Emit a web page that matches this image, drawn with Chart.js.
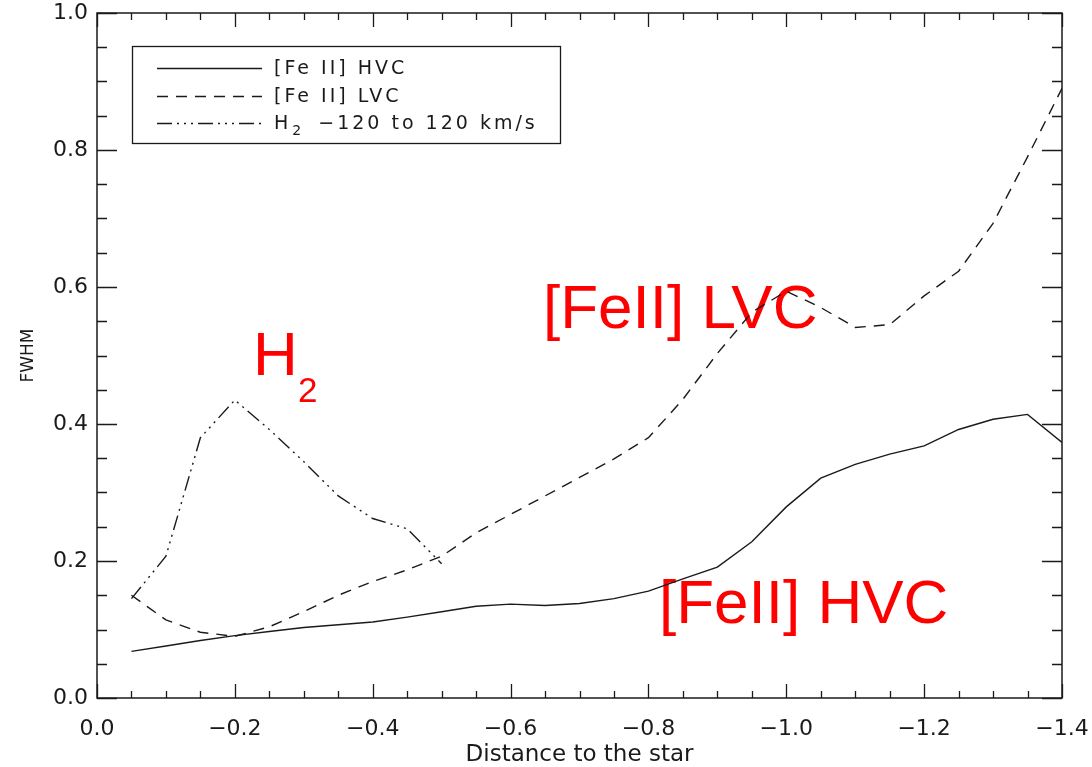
<!DOCTYPE html>
<html>
<head>
<meta charset="utf-8">
<script src="https://cdn.jsdelivr.net/npm/chart.js@4"></script>
<style>
  html, body { margin: 0; padding: 0; background: #fff; }
  #wrap { width: 1092px; height: 767px; }
</style>
</head>
<body>
<div id="wrap"><canvas id="chart" width="1092" height="767"></canvas></div>
<script>
// distance to the star (x), sampled every 0.05
const distance = [-0.05, -0.10, -0.15, -0.20, -0.25, -0.30, -0.35, -0.40, -0.45, -0.50,
                  -0.55, -0.60, -0.65, -0.70, -0.75, -0.80, -0.85, -0.90, -0.95, -1.00,
                  -1.05, -1.10, -1.15, -1.20, -1.25, -1.30, -1.35, -1.40];

// FWHM values
const feHVC = [0.068, 0.076, 0.084, 0.091, 0.097, 0.103, 0.107, 0.111, 0.118, 0.126,
               0.134, 0.137, 0.135, 0.138, 0.145, 0.156, 0.174, 0.191, 0.228, 0.279,
               0.321, 0.341, 0.356, 0.368, 0.392, 0.407, 0.414, 0.373];
const feLVC = [0.150, 0.114, 0.096, 0.090, 0.104, 0.126, 0.150, 0.170, 0.187, 0.207,
               0.241, 0.268, 0.295, 0.322, 0.349, 0.380, 0.436, 0.503, 0.563, 0.594,
               0.570, 0.541, 0.545, 0.587, 0.623, 0.693, 0.790, 0.890];
const h2 = [0.145, 0.207, 0.380, 0.435, 0.392, 0.345, 0.295, 0.262, 0.247, 0.196];

const xTicks = [0, -0.2, -0.4, -0.6, -0.8, -1.0, -1.2, -1.4];
const yTicks = [0, 0.2, 0.4, 0.6, 0.8, 1.0];

const seriesLabels = ['[Fe II] HVC', '[Fe II] LVC', 'H\u2082 \u2212120 to 120 km/s'];
const dashes = [[], [11, 8], [15, 5, 2, 5, 2, 5, 2, 5]];

const FONT = 'DejaVu Sans, sans-serif';
const INK = '#1a1a1a';

function toPoints(ys) {
    return ys.map(function (y, i) { return { x: distance[i], y: y }; });
}

// legend label, with the H2 subscript drawn by hand
function legendText(ctx, k, x, y) {
    ctx.font = '19px ' + FONT;
    if (k < 2) {
        ctx.fillText(seriesLabels[k], x, y);
        return;
    }
    ctx.fillText('H', x, y);
    let w = ctx.measureText('H').width;
    ctx.font = '14px ' + FONT;
    ctx.fillText('2', x + w + 1, y + 7);
    w += ctx.measureText('2').width + 6;
    ctx.font = '19px ' + FONT;
    ctx.fillText(' \u2212120 to 120 km/s', x + w, y);
}

// inward ticks on all four sides, box frame, legend, red labels
const idlFrame = {
    id: 'idlFrame',
    beforeDatasetsDraw: function (chart) {
        const ctx = chart.ctx;
        ctx.save();
        ctx.fillStyle = '#ff0000';
        ctx.textBaseline = 'alphabetic';
        ctx.textAlign = 'left';
        ctx.font = '62px "Liberation Sans", Arial, sans-serif';
        ctx.fillText('[FeII] LVC', 543, 328);
        ctx.fillText('[FeII] HVC', 659, 623);
        ctx.fillText('H', 253, 375);
        ctx.font = '35px "Liberation Sans", Arial, sans-serif';
        ctx.fillText('2', 298, 402);
        ctx.restore();
    },
    afterDraw: function (chart) {
        const ctx = chart.ctx;
        const a = chart.chartArea;
        const xs = chart.scales.x;
        const ys = chart.scales.y;
        ctx.save();
        ctx.strokeStyle = INK;
        ctx.lineWidth = 1.5;
        ctx.strokeRect(a.left, a.top, a.right - a.left, a.bottom - a.top);

        ctx.lineWidth = 1.3;
        ctx.beginPath();
        for (let i = 0; i <= 28; i++) {
            const v = -i * 0.05;
            const px = Math.round(xs.getPixelForValue(v)) + 0.5;
            const len = (i % 4 === 0) ? 14 : 7;
            ctx.moveTo(px, a.bottom); ctx.lineTo(px, a.bottom - len);
            ctx.moveTo(px, a.top); ctx.lineTo(px, a.top + len);
        }
        for (let i = 0; i <= 20; i++) {
            const v = i * 0.05;
            const py = Math.round(ys.getPixelForValue(v)) + 0.5;
            const len = (i % 4 === 0) ? 20 : 10;
            ctx.moveTo(a.left, py); ctx.lineTo(a.left + len, py);
            ctx.moveTo(a.right, py); ctx.lineTo(a.right - len, py);
        }
        ctx.stroke();

        // legend box
        ctx.lineWidth = 1.3;
        ctx.strokeRect(132.5, 46.5, 428, 97);
        const rowY = [68, 96, 123];
        ctx.fillStyle = INK;
        ctx.textBaseline = 'middle';
        ctx.textAlign = 'left';
        for (let k = 0; k < 3; k++) {
            ctx.setLineDash(dashes[k]);
            ctx.beginPath();
            ctx.moveTo(157, rowY[k] + 0.5);
            ctx.lineTo(262, rowY[k] + 0.5);
            ctx.stroke();
            ctx.setLineDash([]);
            ctx.letterSpacing = '3px';
            legendText(ctx, k, 274, rowY[k] + 1);
            ctx.letterSpacing = '0px';
        }
        ctx.restore();
    }
};

const datasets = [feHVC, feLVC, h2].map(function (ys, k) {
    return {
        label: seriesLabels[k],
        data: toPoints(ys),
        borderColor: INK,
        borderWidth: 1.4,
        borderDash: dashes[k],
        pointRadius: 0,
        tension: 0,
        fill: false
    };
});

new Chart(document.getElementById('chart'), {
    type: 'line',
    data: { datasets: datasets },
    plugins: [idlFrame],
    options: {
        responsive: false,
        animation: false,
        layout: { padding: { top: 13, right: 30, left: 0, bottom: 0 } },
        plugins: {
            legend: { display: false },
            tooltip: { enabled: false }
        },
        scales: {
            x: {
                type: 'linear',
                min: -1.4,
                max: 0,
                reverse: true,
                afterFit: function (s) {
                    s.height = 69;
                    s.paddingLeft = 0;
                    s.paddingRight = 0;
                },
                afterBuildTicks: function (s) { s.ticks = xTicks.map(function (v) { return { value: v }; }); },
                grid: { display: false, drawTicks: false },
                border: { display: false },
                ticks: {
                    padding: 18,
                    color: INK,
                    font: { family: FONT, size: 22 },
                    maxRotation: 0,
                    callback: function (v) { return (v < 0 ? '\u2212' : '') + Math.abs(v).toFixed(1); }
                },
                title: {
                    display: true,
                    text: 'Distance to the star',
                    color: INK,
                    font: { family: FONT, size: 23, lineHeight: 1.0 },
                    padding: { top: 0, bottom: 0 }
                }
            },
            y: {
                type: 'linear',
                min: 0,
                max: 1,
                afterFit: function (s) {
                    s.width = 97;
                    s.paddingTop = 0;
                    s.paddingBottom = 0;
                },
                afterBuildTicks: function (s) { s.ticks = yTicks.map(function (v) { return { value: v }; }); },
                grid: { display: false, drawTicks: false },
                border: { display: false },
                ticks: {
                    padding: 9,
                    color: INK,
                    font: { family: FONT, size: 22 },
                    callback: function (v) { return v.toFixed(1); }
                },
                title: {
                    display: true,
                    text: 'FWHM',
                    color: INK,
                    font: { family: FONT, size: 17 },
                    padding: { top: 18, bottom: 0 }
                }
            }
        }
    }
});
</script>
</body>
</html>
